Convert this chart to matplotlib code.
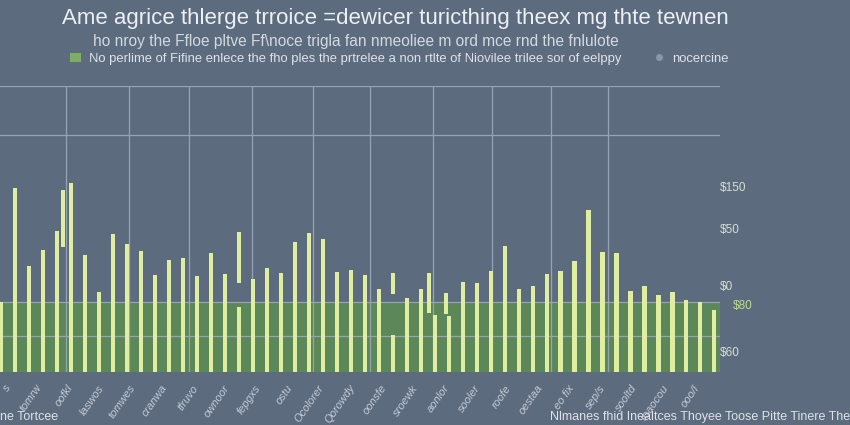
import numpy as np
import matplotlib
matplotlib.use("Agg")
import matplotlib.pyplot as plt
from matplotlib.patches import Patch
from matplotlib.lines import Line2D

plt.rcParams['font.family'] = ['Liberation Sans', 'DejaVu Sans']

# bar heights (one per category)
bar_heights = [24.5, 64.3, 37.1, 42.7, 49.3, 66.1, 40.9, 28.0, 48.3, 44.8,
               42.3, 33.9, 39.2, 39.9, 33.6, 41.6, 34.3, 22.7, 32.5, 36.4,
               34.6, 45.5, 48.6, 46.5, 35.0, 35.7, 33.9, 29.0, 12.9, 25.9,
               29.0, 19.9, 19.6, 31.5, 31.1, 35.3, 44.1, 29.0, 30.1, 34.3,
               35.3, 38.8, 56.6, 42.0, 41.6, 28.3, 30.1, 26.9, 28.0, 25.2,
               24.5, 21.7]
# green base band under every bar
band_heights = [24.5] * len(bar_heights)

# floating segments: position, bottom, top
seg_pos = [4.4, 17.0, 28.0, 30.6, 31.8]
seg_bottom = [43.7, 31.1, 27.3, 20.6, 20.3]
seg_top = [63.6, 49.0, 34.6, 34.6, 27.6]

tick_labels = ["s", "tomrw", "oofkl", "laswos", "tomwes", "cranwa", "tfruvo",
               "ownoor", "fepgxs", "ostu", "Ocolorer", "Qorowdy", "oonsfe",
               "sroewk", "aonlor", "sooler", "roofe", "oestaa", "eo fix",
               "sep/s", "sooltd", "roaocou", "ooo/l"]

right_labels = ["\\$150", "\\$50", "\\$0", "\\$80", "\\$60"]
right_label_y = [64.3, 49.6, 29.7, 23.1, 6.6]

bg = '#5d6b7e'
green = '#5c8759'
yellow = '#dfeea0'
grid_c = '#97a3b3'

fig = plt.figure(figsize=(8.5, 4.25), dpi=100, facecolor=bg)
ax = fig.add_axes([0.0, 0.125, 0.847, 0.673])
ax.set_facecolor(bg)

x = np.arange(len(bar_heights))
ax.bar(x, band_heights, width=1.0, color=green, zorder=1)
ax.bar(x, bar_heights, width=0.3, color=yellow, zorder=3)
ax.bar(seg_pos, np.array(seg_top) - np.array(seg_bottom), bottom=seg_bottom,
       width=0.3, color=yellow, zorder=3)

ax.set_xlim(-0.1, 51.4)
ax.set_ylim(0, 100)

# grid
ax.set_yticks([12.6, 24.5, 82.9, 100])
ax.set_yticklabels([])
ax.set_xticks([4.6, 9.1, 13.4, 17.9, 22.3, 26.4, 30.9, 35.1, 39.3, 43.4], minor=True)
ax.grid(True, which='major', axis='y', color=grid_c, lw=0.9, zorder=2)
ax.grid(True, which='minor', axis='x', color=grid_c, lw=0.9, zorder=0)
ax.tick_params(which='both', length=0)

lab_pos = np.linspace(0.2, 49.5, len(tick_labels))
ax.set_xticks(lab_pos)
ax.set_xticklabels(tick_labels, rotation=55, ha='right', rotation_mode='anchor',
                   fontsize=8, color='#c3cbd6', style='italic')
ax.tick_params(axis='x', pad=8)
for s in ax.spines.values():
    s.set_visible(False)

# right side value labels
for i, (lab, yv) in enumerate(zip(right_labels, right_label_y)):
    col = '#b9df8c' if i == 3 else '#d9ddd0'
    xo = 1.018 if i == 3 else 1.0
    ax.text(xo, yv, lab, transform=ax.get_yaxis_transform(), fontsize=8.5,
            color=col, va='center', ha='left')

fig.text(0.465, 0.957, "Ame agrice thlerge trroice =dewicer turicthing theex mg thte tewnen",
         ha='center', va='center', fontsize=16, color='#eceff3')
fig.text(0.109, 0.903, "ho nroy the Ffloe pltve Ff\\noce trigla fan nmeoliee m ord mce rnd the fnlulote",
         ha='left', va='center', fontsize=11.2, color='#d3d9e1')

handles = [Patch(facecolor='#7fae62', edgecolor='none'),
           Line2D([], [], marker='o', ls='', color='#8c97a6', markersize=4)]
fig.legend(handles, ["No perlime of Fifine enlece the fho ples the prtrelee a non rtlte of Niovilee trilee sor of eelppy",
                     "nocercine"],
           loc='center', bbox_to_anchor=(0.47, 0.862), ncol=2, frameon=False,
           fontsize=9.4, labelcolor='#dfe3e9', columnspacing=2.5,
           handlelength=0.8, handletextpad=0.6)

fig.text(0.0, 0.018, "ne Tortcee", ha='left', va='center', fontsize=9, color='#dde2e8')
fig.text(1.0, 0.018, "Nlmanes fhid Inealtces Thoyee Toose Pitte Tinere The",
         ha='right', va='center', fontsize=9, color='#dde2e8')

fig.savefig("out.png", dpi=100, facecolor=bg)
